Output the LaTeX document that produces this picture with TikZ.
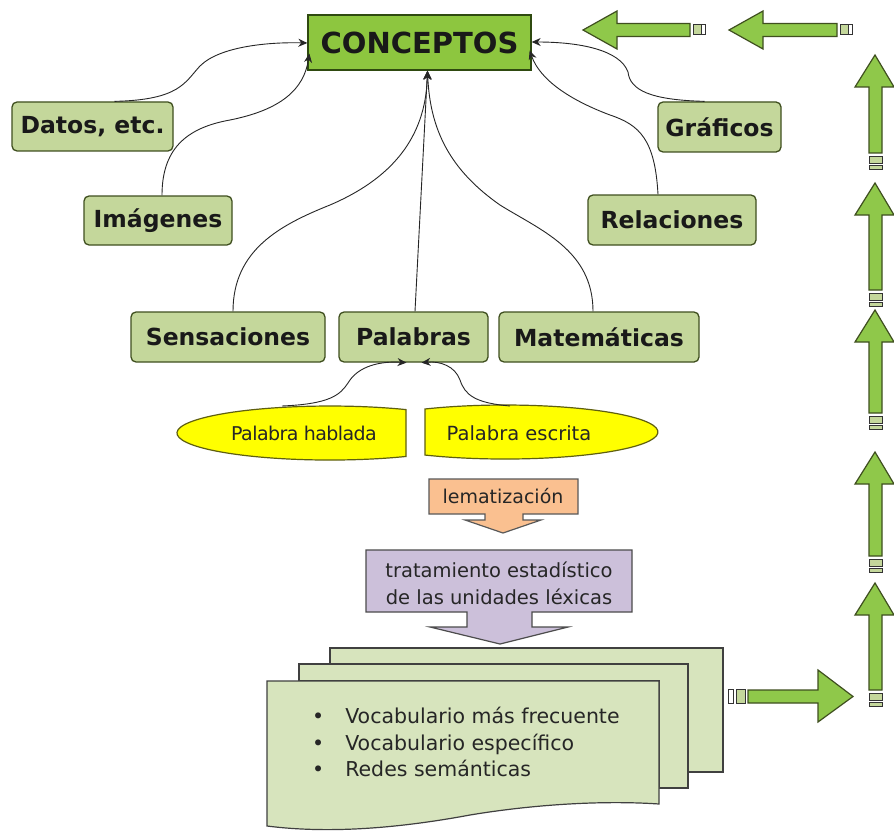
\documentclass[tikz,border=0pt]{standalone}
\usepackage{fontspec}
\setmainfont{DejaVu Sans}
\usetikzlibrary{arrows.meta}
\definecolor{cgreen}{HTML}{8DC63F}
\definecolor{cgreenline}{HTML}{2F4A10}
\definecolor{olive}{HTML}{C4D79B}
\definecolor{oliveline}{HTML}{3F4F1F}
\definecolor{agreen}{HTML}{8FC84A}
\definecolor{agreenlight}{HTML}{C4D79B}
\definecolor{ayellow}{HTML}{FFFF00}
\definecolor{ayellowline}{HTML}{5F5F10}
\definecolor{aorange}{HTML}{FAC090}
\definecolor{alav}{HTML}{CCC0DA}
\definecolor{adoc}{HTML}{D7E4BD}
\newcommand\garrowup[2]{%
  \draw[blk] (875,#1) -- (894,{#1+32}) -- (882,{#1+32}) -- (882,#2) -- (869,#2) -- (869,{#1+32}) -- (855,{#1+32}) -- cycle;
  \draw[smallbox] (869,{#2+3}) rectangle (882,{#2+10});
  \draw[smallbox] (869,{#2+12}) rectangle (882,{#2+16});}
\newcommand\garrowleft[2]{%
  \draw[blk] (#1,30) -- ({#1+34},11) -- ({#1+34},23.5) -- (#2,23.5) -- (#2,36.5) -- ({#1+34},36.5) -- ({#1+34},49) -- cycle;
  \draw[smallbox] ({#2+3},25) rectangle ({#2+11},35);
  \draw[smallbox,fill=white] ({#2+11},25) rectangle ({#2+15},35);}
\begin{document}
\begin{tikzpicture}[x=1pt,y=-1pt,
  lbl/.style={draw=oliveline, fill=olive, rounded corners=5pt, line width=1.3pt,
     font=\bfseries\fontsize{23.5}{28}\selectfont, inner sep=0pt, text=black!90},
  con/.style={draw=black!85, line width=0.9pt, -{Stealth[length=9pt,width=8pt]}},
  blk/.style={fill=agreen, draw=oliveline, line width=1.2pt},
  smallbox/.style={fill=agreenlight, draw=black!80, line width=1pt},
  yel/.style={fill=ayellow, draw=ayellowline, line width=1.2pt},
  doc/.style={fill=adoc, draw=black!75, line width=1.2pt}]
\useasboundingbox (0,0) rectangle (894,832);
\fill[white] (0,0) rectangle (894,832);

% main nodes
\node[draw=cgreenline, fill=cgreen, line width=1.3pt, inner sep=0pt,
  minimum width=223pt, minimum height=55pt,
  font=\bfseries\fontsize{29}{34}\selectfont, text=black!90] (C) at (419.5,42.5) {CONCEPTOS};
\node[lbl, minimum width=161pt, minimum height=49pt] (D) at (92.5,126.5) {Datos, etc.};
\node[lbl, minimum width=148pt, minimum height=49pt] (I) at (158,220.5) {Imágenes};
\node[lbl, minimum width=123pt, minimum height=50pt] (G) at (719.5,127) {Gráficos};
\node[lbl, minimum width=168pt, minimum height=50pt] (R) at (672,220) {Relaciones};
\node[lbl, minimum width=194pt, minimum height=50pt] (S) at (228,337) {Sensaciones};
\node[lbl, minimum width=149pt, minimum height=50pt] (P) at (413.5,337) {Palabras};
\node[lbl, minimum width=200pt, minimum height=50pt] (M) at (599,337) {Matemáticas};

% connectors into CONCEPTOS
\draw[con] ([xshift=22pt]D.north) .. controls (180,100) and (185,82) .. (200,66)
   .. controls (220,46) and (270,42) .. ([yshift=-0.5pt]C.west);
\draw[con] ([xshift=4pt]I.north) .. controls (162,150) and (185,128) .. (230,120)
   .. controls (280,110) and (304,90) .. ([xshift=2pt,yshift=-11pt]C.west);
\draw[con] ([xshift=5pt]S.north) .. controls (233,250) and (280,225) .. (330,205)
   .. controls (400,175) and (426,130) .. ([xshift=8pt]C.south);
\draw[con] ([xshift=1.5pt]P.north) -- ([xshift=8pt]C.south);
\draw[con] ([xshift=-6pt]M.north) .. controls (593,250) and (540,230) .. (500,205)
   .. controls (450,170) and (430,130) .. ([xshift=8pt]C.south);
\draw[con] ([xshift=-14pt]R.north) .. controls (655,140) and (640,125) .. (610,115)
   .. controls (570,100) and (540,80) .. ([xshift=-2pt,yshift=-8pt]C.east);
\draw[con] ([xshift=-15pt]G.north) .. controls (650,100) and (630,90) .. (628,72)
   .. controls (620,50) and (580,42) .. ([yshift=0.5pt]C.east);

% spoken / written word
\draw[yel] (406,409.6) arc[start angle=-60.2, end angle=-299.8, x radius=153, y radius=27] -- cycle;
\node[inner sep=0pt, font=\fontsize{19}{22}\selectfont\addfontfeatures{LetterSpace=-3}, text=black!85] (H) at (304,433) {Palabra hablada};
\draw[yel] (425,409) arc[start angle=-121.5, end angle=121.5, x radius=153, y radius=27] -- cycle;
\node[inner sep=0pt, font=\fontsize{19.5}{22}\selectfont, text=black!85] (E) at (519,433) {Palabra escrita};
\coordinate (hs) at (282,406);
\coordinate (es) at (510,406);
\draw[con] (hs) .. controls (330,404) and (340,395) .. (348,383)
   .. controls (358,366) and (380,361) .. ([xshift=-7pt]P.south);
\draw[con] (es) .. controls (475,403) and (465,395) .. (460,380)
   .. controls (455,366) and (440,361) .. ([xshift=8pt]P.south);

% lematización callout
\draw[fill=aorange, draw=black!65, line width=1.2pt]
  (429,479) -- (578,479) -- (578,514) -- (523,514) -- (523,520) -- (541,520) -- (503,533)
  -- (465,520) -- (485,520) -- (485,514) -- (429,514) -- cycle;
\node[inner sep=0pt, font=\fontsize{19}{22}\selectfont, text=black!85] (L) at (503,496.5) {lematización};

% tratamiento callout
\draw[fill=alav, draw=black!70, line width=1.2pt]
  (366,550) -- (632,550) -- (632,612) -- (532,612) -- (532,627) -- (568,627) -- (500,644)
  -- (430,627) -- (467,627) -- (467,612) -- (366,612) -- cycle;
\node[inner sep=0pt, align=center, font=\fontsize{19.5}{27}\selectfont, text=black!85] (T) at (499,583)
  {tratamiento estadístico\\de las unidades léxicas};

% stacked documents
\draw[doc] (330,648) -- (723,648) -- (723,772) -- (688,772) -- (688,664) -- (330,664) -- cycle;
\draw[doc] (299,664) -- (688,664) -- (688,788) -- (659,788) -- (659,681) -- (299,681) -- cycle;
\draw[doc] (267,681) -- (659,681) -- (659,804)
   .. controls (600,800) and (530,805) .. (470,815)
   .. controls (400,828) and (330,834) .. (267,826) -- cycle;
\node[inner sep=0pt, anchor=west, font=\fontsize{20.5}{26.5}\selectfont, text=black!85] (V) at (312,745)
  {\begin{tabular}{@{}l@{\hspace{21pt}}l@{}}
   \textbullet & Vocabulario más frecuente\\
   \textbullet & Vocabulario específico\\
   \textbullet & Redes semánticas
   \end{tabular}};

% green block arrows
\garrowleft{583}{690}
\garrowleft{729}{837}
\garrowup{55}{153}
\garrowup{183}{290}
\garrowup{310}{413}
\garrowup{452}{556}
\garrowup{583}{690}
\draw[blk] (748,690) -- (818,690) -- (818,670) -- (853,696.5) -- (818,722) -- (818,703) -- (748,703) -- cycle;
\draw[smallbox] (736,689) rectangle (745,703);
\draw[smallbox,fill=white] (728,689) rectangle (733,703);
\end{tikzpicture}
\end{document}
